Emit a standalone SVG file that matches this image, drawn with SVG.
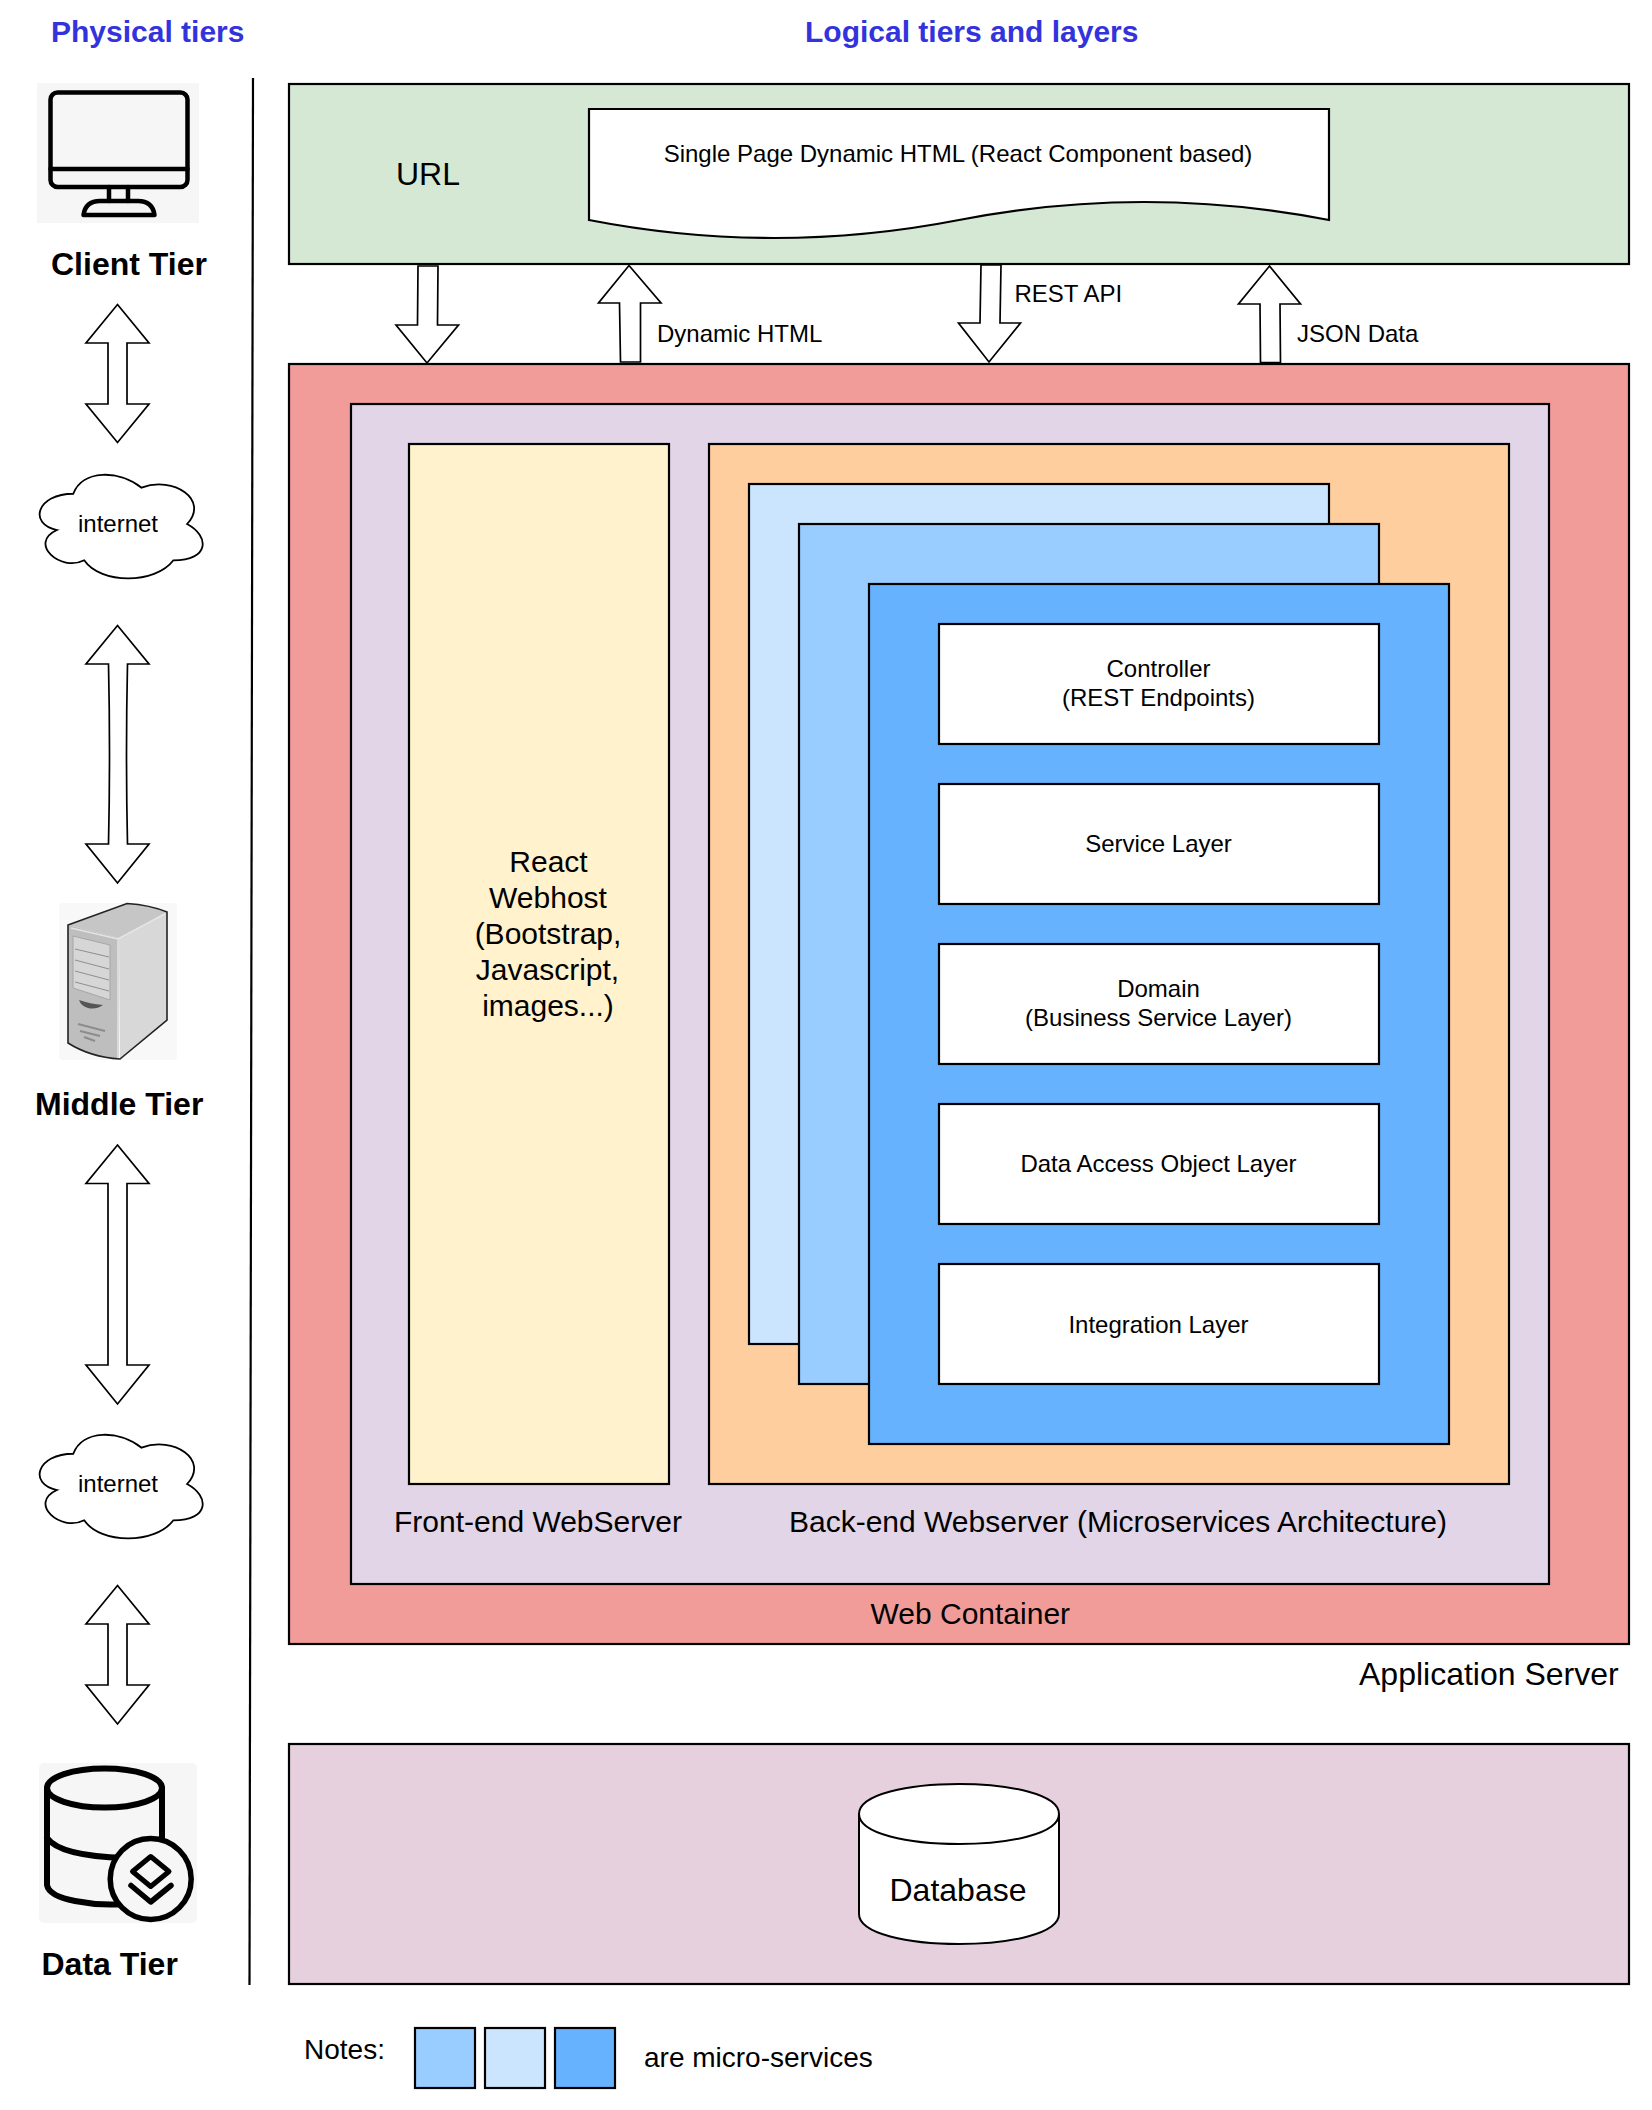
<svg xmlns="http://www.w3.org/2000/svg" xmlns:xlink="http://www.w3.org/1999/xlink" width="1652" height="2110" viewBox="0 0 1652 2110">
<style>
text{font-family:"Liberation Sans",Arial,sans-serif;fill:#000}
.box{stroke:#000;stroke-width:2.2}
.arrow{fill:#fff;stroke:#000;stroke-width:1.7}
.head{font-size:30px;font-weight:700;fill:#3333DD}
.tier{font-size:32px;font-weight:700}
.s24{font-size:24px}
.s30{font-size:30px}
.s32{font-size:32px}
.s28{font-size:28px}
.m{text-anchor:middle}
.ico{fill:none;stroke:#000;stroke-linecap:round;stroke-linejoin:round}
</style>
<defs>
<path id="cloud" d="M45.5 30.25C9.1 30.25 0 60.5 29.12 66.55C0 79.86 32.76 108.9 56.42 96.8C72.8 121 127.4 121 145.6 96.8C182 96.8 182 72.6 159.25 60.5C182 36.3 145.6 12.1 113.75 24.2C91 6.05 54.6 6.05 45.5 30.25Z" fill="#fff" stroke="#000" stroke-width="1.8"/>
</defs>
<rect width="1652" height="2110" fill="#fff"/>

<g id="titles">
<text class="head" x="51" y="42">Physical tiers</text>
<text class="head" x="805" y="42">Logical tiers and layers</text>
</g>

<g id="client-tier">
<rect x="37" y="83" width="162" height="140" fill="#F6F6F6"/>
<rect x="50.5" y="92.5" width="137" height="94.5" rx="7" class="ico" stroke-width="4.5"/>
<path d="M50.5 169H187.5M109 187V201M128 187V201" class="ico" stroke-width="4.5"/>
<path d="M83.5 215Q85.5 201 100 201H138Q152.5 201 154.5 215Z" class="ico" stroke-width="4.5"/>
<text class="tier" x="51" y="275">Client Tier</text>
</g>

<g id="internet-1">
<use xlink:href="#cloud" href="#cloud" x="27.8" y="463.5"/>
<text class="s24 m" x="118" y="532">internet</text>
</g>

<g id="middle-tier">
<rect x="59" y="903" width="118" height="157" rx="4" fill="#F8F8F8"/>
<path d="M68 925L127 903.5Q150 905 167 912L119 938Z" fill="#C6C6C6"/>
<path d="M68 925L119 938V1059Q90 1057 68 1043Z" fill="#BEBEBE"/>
<path d="M119 938L167 912V1020L120 1059Z" fill="#D8D8D8"/>
<path d="M68 925L127 903.5Q150 905 167 912V1020L120 1059Q90 1057 68 1043Z" fill="none" stroke="#222" stroke-width="1.6"/>
<path d="M71 928L118 939L165 914M118 939V1058" fill="none" stroke="#E4E4E4" stroke-width="1.5"/>
<path d="M73 936L110 945V1000L73 988Z" fill="#D6D6D6" stroke="#A6A6A6" stroke-width="1"/>
<path d="M75 949L109 957M75 960L109 969M75 971L109 980M75 982L109 991" fill="none" stroke="#8E8E8E" stroke-width="1"/>
<path d="M79 1000Q90 1004 103 1005Q96 1010 88 1008Q81 1006 79 1000Z" fill="#555"/>
<path d="M78 1024L105 1031M80 1031L100 1036M84 1037L95 1041" fill="none" stroke="#8C8C8C" stroke-width="2"/>
<text class="tier" x="35" y="1115">Middle Tier</text>
</g>

<g id="internet-2">
<use xlink:href="#cloud" href="#cloud" x="27.8" y="1423.5"/>
<text class="s24 m" x="118" y="1492">internet</text>
</g>

<g id="data-tier">
<rect x="39" y="1763" width="158" height="160" rx="5" fill="#F6F6F6"/>
<ellipse cx="104.5" cy="1788" rx="57.5" ry="19.5" class="ico" stroke-width="6"/>
<path d="M47 1788V1885Q49 1896 75 1901Q100 1906 125 1904M162 1788V1845M47 1838Q60 1856 125 1858" class="ico" stroke-width="6"/>
<circle cx="150.7" cy="1879" r="40.5" fill="#F6F6F6" stroke="#000" stroke-width="5.5"/>
<path d="M150.7 1856.5L169 1871.5L150.7 1886.5L132.5 1871.5Z" class="ico" stroke-width="5"/>
<path d="M131 1885.5L150.7 1902L171 1885.5" class="ico" stroke-width="5.5"/>
<text class="tier" x="41.5" y="1975">Data Tier</text>
</g>

<g id="client-layer">
<rect x="289" y="84" width="1340" height="180" fill="#D5E8D4" class="box"/>
<text class="s32" x="396" y="185">URL</text>
</g>
<g id="single-page">
<path d="M589 109H1329V220Q1144 184 959 220Q774 256 589 220Z" fill="#fff" class="box"/>
<text class="s24 m" x="958" y="162">Single Page Dynamic HTML (React Component based)</text>
</g>

<g id="application-server">
<rect x="289" y="364" width="1340" height="1280" fill="#F19C99" class="box"/>
<text class="s32" x="1359" y="1685">Application Server</text>
</g>
<g id="web-container">
<rect x="351" y="404" width="1198" height="1180" fill="#E1D5E7" class="box"/>
<text class="s30" x="870.5" y="1624">Web Container</text>
</g>
<g id="front-end">
<rect x="409" y="444" width="260" height="1040" fill="#FFF2CC" class="box"/>
<text class="s30 m" x="548.5" y="872">React</text>
<text class="s30 m" x="548" y="908">Webhost</text>
<text class="s30 m" x="548" y="944">(Bootstrap,</text>
<text class="s30 m" x="547.5" y="980">Javascript,</text>
<text class="s30 m" x="548" y="1016">images...)</text>
<text class="s30" x="394" y="1532">Front-end WebServer</text>
</g>
<g id="back-end">
<rect x="709" y="444" width="800" height="1040" fill="#FFCE9F" class="box"/>
<text class="s30" x="789" y="1532">Back-end Webserver (Microservices Architecture)</text>
</g>
<g id="service-1"><rect x="749" y="484" width="580" height="860" fill="#CCE5FF" class="box"/></g>
<g id="service-2"><rect x="799" y="524" width="580" height="860" fill="#99CCFF" class="box"/></g>
<g id="service-3"><rect x="869" y="584" width="580" height="860" fill="#66B2FF" class="box"/></g>
<g id="controller">
<rect x="939" y="624" width="440" height="120" fill="#fff" class="box"/>
<text class="s24 m" x="1158.5" y="677">Controller</text>
<text class="s24 m" x="1158.5" y="706">(REST Endpoints)</text>
</g>
<g id="service-layer">
<rect x="939" y="784" width="440" height="120" fill="#fff" class="box"/>
<text class="s24 m" x="1158.5" y="852">Service Layer</text>
</g>
<g id="domain">
<rect x="939" y="944" width="440" height="120" fill="#fff" class="box"/>
<text class="s24 m" x="1158.5" y="997">Domain</text>
<text class="s24 m" x="1158.5" y="1026">(Business Service Layer)</text>
</g>
<g id="dao">
<rect x="939" y="1104" width="440" height="120" fill="#fff" class="box"/>
<text class="s24 m" x="1158.5" y="1172">Data Access Object Layer</text>
</g>
<g id="integration">
<rect x="939" y="1264" width="440" height="120" fill="#fff" class="box"/>
<text class="s24 m" x="1158.5" y="1333">Integration Layer</text>
</g>

<g id="database-server">
<rect x="289" y="1744" width="1340" height="240" fill="#E6D0DE" class="box"/>
</g>
<g id="database">
<path d="M859 1814C859 1774 1059 1774 1059 1814V1914C1059 1954 859 1954 859 1914Z" fill="#fff" stroke="#000" stroke-width="2"/>
<path d="M859 1814C859 1854 1059 1854 1059 1814" fill="none" stroke="#000" stroke-width="2"/>
<text class="s32 m" x="958" y="1901">Database</text>
</g>

<g id="notes">
<text class="s28" x="304" y="2059">Notes:</text>
<rect x="415" y="2028" width="60" height="60" fill="#99CCFF" class="box"/>
<rect x="485" y="2028" width="60" height="60" fill="#CCE5FF" class="box"/>
<rect x="555" y="2028" width="60" height="60" fill="#66B2FF" class="box"/>
<text class="s28" x="644" y="2067">are micro-services</text>
</g>

<g id="connectors">
<path d="M253 78L249.5 1985" fill="none" stroke="#000" stroke-width="2.2"/>
<path class="arrow" d="M117.5 304.5L149 343H127V404H149L117.5 442.5L86 404H108V343H86Z"/>
<path class="arrow" d="M117.5 625.5L149 664H127.5Q125.5 754 127.5 844H149L117.5 883L86 844H108.5Q110.5 754 108.5 664H86Z"/>
<path class="arrow" d="M117.5 1145L149 1183.5H127V1365H149L117.5 1404L86 1365H108V1183.5H86Z"/>
<path class="arrow" d="M117.5 1585.5L149 1624H127V1685H149L117.5 1724L86 1685H108V1624H86Z"/>
<path class="arrow" d="M418 266H438L437.5 325H458.5L427 363L396 325H417.5Z"/>
<path class="arrow" d="M629 265.5L661 303H640.5V362H620.5L619.5 303H598.5Z"/>
<path class="arrow" d="M981 265H1001L1000 323H1020.5L989 362L958.5 323H980Z"/>
<path class="arrow" d="M1269.5 266L1300.5 304H1280L1280.5 362.5H1260.5L1260 304H1238.5Z"/>
<text class="s24" x="657" y="342">Dynamic HTML</text>
<text class="s24" x="1014.5" y="302">REST API</text>
<text class="s24" x="1297" y="342">JSON Data</text>
</g>
</svg>
